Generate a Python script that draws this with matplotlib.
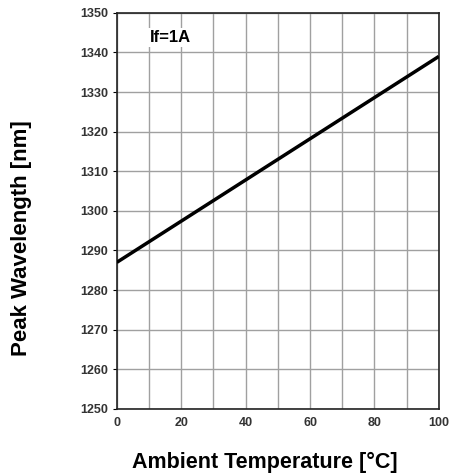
import matplotlib
matplotlib.use('Agg')
import matplotlib.pyplot as plt

plt.rcParams['font.family'] = ['Liberation Sans', 'DejaVu Sans']

# data
temp = [0, 100]
wavelength = [1287, 1339]
x_ticks = [0, 20, 40, 60, 80, 100]
y_ticks = list(range(1250, 1351, 10))

fig = plt.figure(figsize=(4.51, 4.76), dpi=100)
ax = fig.add_axes([0.259, 0.141, 0.714, 0.832])

ax.plot(temp, wavelength, color='black', linewidth=2.5, zorder=3, solid_capstyle='butt')

ax.set_xlim(0, 100)
ax.set_ylim(1250, 1350)
ax.set_xticks(x_ticks)
ax.set_xticks(range(0, 101, 10), minor=True)
ax.set_yticks(y_ticks)
ax.grid(True, which='both', color='#a0a0a0', linewidth=1.0, zorder=0)
ax.set_axisbelow(True)

for lab in ax.get_xticklabels() + ax.get_yticklabels():
    lab.set_fontweight('bold')
    lab.set_color('#333333')
ax.tick_params(axis='both', which='major', labelsize=9)
ax.tick_params(axis='y', which='major', length=3, width=0.8, pad=3)
ax.tick_params(axis='x', which='major', length=0, pad=6)
ax.tick_params(axis='x', which='minor', length=0)
for s in ax.spines.values():
    s.set_linewidth(1.2)
    s.set_color('#222222')

ax.text(16.8, 1343.8, 'If=1A', fontsize=12, fontweight='bold', ha='center', va='center',
        bbox=dict(facecolor='white', edgecolor='none', pad=1.5), zorder=2)

fig.text(0.048, 0.5, 'Peak Wavelength [nm]', rotation=90, fontsize=16,
         fontweight='bold', ha='center', va='center')
fig.text(0.588, 0.029, 'Ambient Temperature [°C]', fontsize=15.5,
         fontweight='bold', ha='center', va='center')

plt.savefig('out.png', dpi=100)
